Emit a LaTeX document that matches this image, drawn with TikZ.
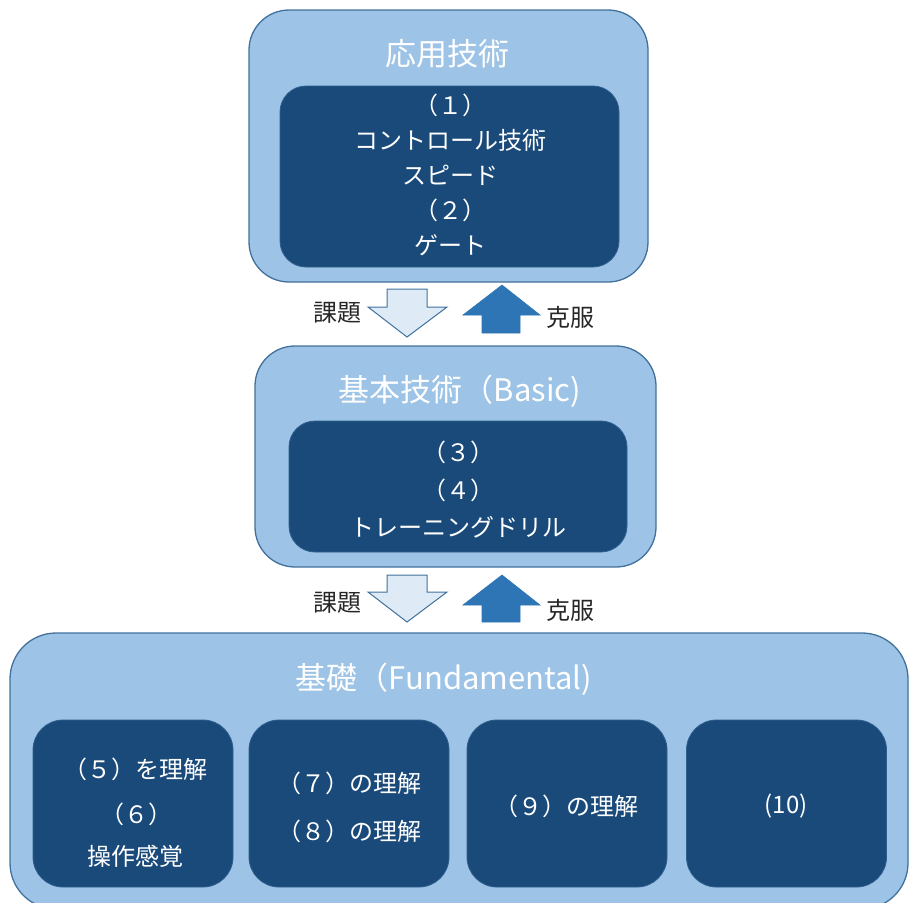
\documentclass[tikz,border=0pt]{standalone}
\usepackage{fontspec}
\setmainfont{Noto Sans CJK JP}
\definecolor{outerfill}{HTML}{9DC3E6}
\definecolor{outerline}{HTML}{41719C}
\definecolor{innerfill}{HTML}{1A4A7A}
\definecolor{innerline}{HTML}{2F5F8E}
\definecolor{downfill}{HTML}{DEEBF7}
\definecolor{upfill}{HTML}{2E75B6}
\definecolor{labeltext}{HTML}{262626}
\tikzset{
  outerbox/.style={draw=outerline, line width=1.3pt, fill=outerfill, rounded corners=#1, inner sep=0pt},
  innerbox/.style={draw=innerline, line width=0.8pt, fill=innerfill, rounded corners=#1, inner sep=0pt},
  titletext/.style={text=white, font=\fontsize{31}{34}\selectfont, inner sep=0pt},
  bodytext/.style={text=white, font=\fontsize{24}{35}\selectfont, align=center, inner sep=0pt},
  smalltext/.style={text=white, font=\fontsize{24}{28}\selectfont, inner sep=0pt},
  sidelabel/.style={text=labeltext, font=\fontsize{24}{26}\selectfont, inner sep=0pt},
  downarrow/.style={draw=outerline, line width=1pt, fill=downfill},
  uparrow/.style={draw=upfill, line width=0.6pt, fill=upfill}
}
\begin{document}
\begin{tikzpicture}[x=1pt,y=-1pt]
\useasboundingbox (0,0) rectangle (909,902);

% top block
\node[outerbox=40pt, minimum width=399pt, minimum height=272pt] (apo) at (448.5,146) {};
\node[titletext] (apt) at (447,54) {応用技術};
\node[innerbox=26pt, minimum width=339pt, minimum height=181pt] (api) at (449.5,176.5) {};
\node[bodytext] (apx) at (450,175) {（１）\\コントロール技術\\スピード\\（２）\\ゲート};

% arrows row 1
\draw[downarrow] (387,289) -- (427,289) -- (427,307) -- (447,307) -- (407,337) -- (368,307) -- (387,307) -- cycle;
\draw[uparrow] (502,285) -- (540,315) -- (520,315) -- (520,333) -- (482,333) -- (482,315) -- (463,315) -- cycle;
\node[sidelabel] (k1) at (337,313) {課題};
\node[sidelabel] (f1) at (570,317) {克服};

% middle block
\node[outerbox=40pt, minimum width=401pt, minimum height=221pt] (bso) at (455.5,456.5) {};
\node[titletext] (bst) at (460,391) {基本技術（Basic)};
\node[innerbox=26pt, minimum width=338pt, minimum height=131pt] (bsi) at (458,486.5) {};
\node[bodytext, font=\fontsize{24}{37.5}\selectfont] (bsx) at (458,490) {（３）\\（４）\\トレーニングドリル};

% arrows row 2
\draw[downarrow] (387,575) -- (427,575) -- (427,592) -- (447,592) -- (407,622) -- (368,592) -- (387,592) -- cycle;
\draw[uparrow] (502,575) -- (540,605) -- (520,605) -- (520,622) -- (482,622) -- (482,605) -- (463,605) -- cycle;
\node[sidelabel] (k2) at (337,603) {課題};
\node[sidelabel] (f2) at (570,610) {克服};

% bottom block
\node[outerbox=46pt, minimum width=898pt, minimum height=276pt] (fdo) at (459,771) {};
\node[titletext] (fdt) at (444,679) {基礎（Fundamental)};

\node[innerbox=30pt, minimum width=200pt, minimum height=167pt] (b1) at (133,803.5) {};
\node[innerbox=30pt, minimum width=200pt, minimum height=167pt] (b2) at (349,803.5) {};
\node[innerbox=30pt, minimum width=200pt, minimum height=167pt] (b3) at (567,803.5) {};
\node[innerbox=30pt, minimum width=200pt, minimum height=167pt] (b4) at (786.5,803.5) {};

\node[smalltext] (t5) at (135,769) {（５）を理解};
\node[smalltext] (t6) at (136,814) {（６）};
\node[smalltext] (t6b) at (135,856) {操作感覚};
\node[smalltext] (t7) at (349,783) {（７）の理解};
\node[smalltext] (t8) at (349,831) {（８）の理解};
\node[smalltext] (t9) at (566,806) {（９）の理解};
\node[smalltext] (t10) at (786,806) {(10)};
\end{tikzpicture}
\end{document}
